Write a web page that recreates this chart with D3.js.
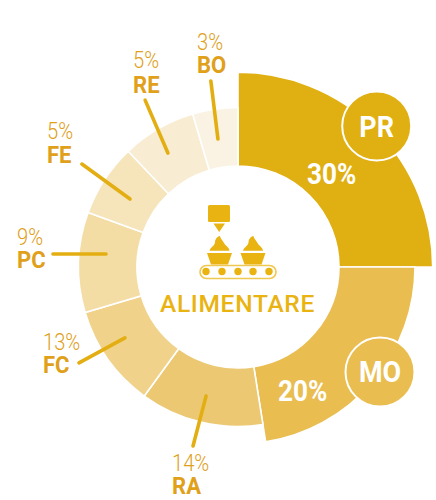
<!DOCTYPE html>
<html><head><meta charset="utf-8">
<script src="https://cdn.jsdelivr.net/npm/d3@7/dist/d3.min.js"></script>
<style>html,body{margin:0;padding:0;background:#fff}svg{display:block}text{font-family:Roboto,sans-serif}</style>
</head><body><svg id="c" width="436" height="500"></svg>
<script>
const categories=["PR","MO","RA","FC","PC","FE","RE","BO"];
const percentLabels=["30%","20%","14%","13%","9%","5%","5%","3%"];
const arcSpans=[90,81,45,37.4,36.6,26.5,27,16.5];
const ringDepth=[3,2,1,1,1,1,1,1];
const colors=["#E0AF12","#E9BD50","#ECC873","#F1D28B","#F4DCA5","#F6E4BB","#F8ECD2","#FAF3E3"];
const leaderFrom=[null,null,[193.9,133],[237.9,133.5],[275.6,132.6],[302.2,127.6],[328.4,133.8],[351.1,129.6]];
const leaderTo=[null,null,[194.1,184.6],[238.9,185.7],[274,185.5],[303.4,187],[330.9,191],[351.7,188]];
const labelPos=[null,null,[172,471],[43,350],[17,245],[47,139],[133,68],[197,50]];
const nameGap=[0,0,23,23,23,24,25,23];
const badgePos=[[376.7,126],[380,372]];
const badgeBase=[136.7,382];
const valuePos=[[331.7,184],[302.7,400.7]];
const title="ALIMENTARE";
const cx=238,cy=267;
const svg=d3.select("#c");
const g=svg.append("g").attr("transform",`translate(${cx},${cy})`);
const radius=d3.scaleLinear().domain([1,2,3]).range([159.5,177,194.7]);
const pie=d3.pie().sort(null).value(d=>d);
const arc=d3.arc().innerRadius(101);
g.selectAll("path.s").data(pie(arcSpans)).join("path").attr("class","s")
 .attr("d",(d,i)=>arc.outerRadius(radius(ringDepth[i]))(d))
 .attr("fill",(d,i)=>colors[i]).attr("stroke","#fff").attr("stroke-width",1.6);
const ink="#E0A01A",line="#E3AE12";
// horizontally condense a text by a factor, keeping it real text
function squeeze(t,f){const n=t.node();t.attr("textLength",n.getComputedTextLength()*f).attr("lengthAdjust","spacingAndGlyphs");return t;}
const polar=([deg,r])=>{const a=deg*Math.PI/180;return [cx+r*Math.sin(a),cy-r*Math.cos(a)];};
categories.forEach((c,i)=>{
 if(!leaderFrom[i]){
  svg.append("circle").attr("cx",badgePos[i][0]).attr("cy",badgePos[i][1]).attr("r",34.5).attr("fill",colors[i]).attr("stroke","#fff").attr("stroke-width",2);
  squeeze(svg.append("text").attr("x",badgePos[i][0]).attr("y",badgeBase[i]).attr("text-anchor","middle").attr("fill","#fff").attr("font-size",29).attr("font-weight",700).text(c),0.93);
  squeeze(svg.append("text").attr("x",valuePos[i][0]).attr("y",valuePos[i][1]).attr("text-anchor","middle").attr("fill","#fff").attr("font-size",29).attr("font-weight",700).text(percentLabels[i]),0.9);
 } else {
  const a=polar(leaderFrom[i]),b=polar(leaderTo[i]);
  svg.append("line").attr("x1",a[0]).attr("y1",a[1]).attr("x2",b[0]).attr("y2",b[1]).attr("stroke",line).attr("stroke-width",3.6).attr("stroke-linecap","round");
  const [x,y]=labelPos[i];
  const t=svg.append("text").attr("fill",ink);
  squeeze(t.append("tspan").attr("x",x).attr("y",y).attr("font-size",24).attr("font-weight",300).text(percentLabels[i]),0.84);
  squeeze(t.append("tspan").attr("x",x).attr("y",y+nameGap[i]).attr("font-size",24.5).attr("font-weight",700).text(c),0.9);
 }
});
// central icon
const ic=svg.append("g").attr("fill","#E9B311");
ic.append("rect").attr("x",208).attr("y",205).attr("width",22).attr("height",17).attr("rx",1.5);
ic.append("path").attr("d","M213.5 223.5H225L219.2 232Z");
const cupcake=(x)=>{
 const k=ic.append("g").attr("transform",`translate(${x},0)`);
 k.append("path").attr("d","M-12.5 253H12.5L8.5 264.5H-8.5Z");
 k.append("path").attr("d","M-10 250.7C-9 247 -5 246 -4.5 242.5C-4.5 239.5 -2.5 236.5 0.5 236C0.5 238 3 240 4.5 243C6 246 9.5 247 10 250.7Z");
};
cupcake(219.5);cupcake(253);
ic.append("rect").attr("x",200).attr("y",265.5).attr("width",76).attr("height",13).attr("rx",6.5).attr("fill","none").attr("stroke","#EFC84F").attr("stroke-width",1.6);
[206,222,238,253,269].forEach(x=>ic.append("circle").attr("cx",x).attr("cy",271.5).attr("r",3.7));
svg.append("text").attr("x",237.5).attr("y",312).attr("text-anchor","middle").attr("fill","#E9B311").attr("font-size",24.5).attr("font-weight",500).attr("letter-spacing",0.7).text(title);
</script></body></html>
